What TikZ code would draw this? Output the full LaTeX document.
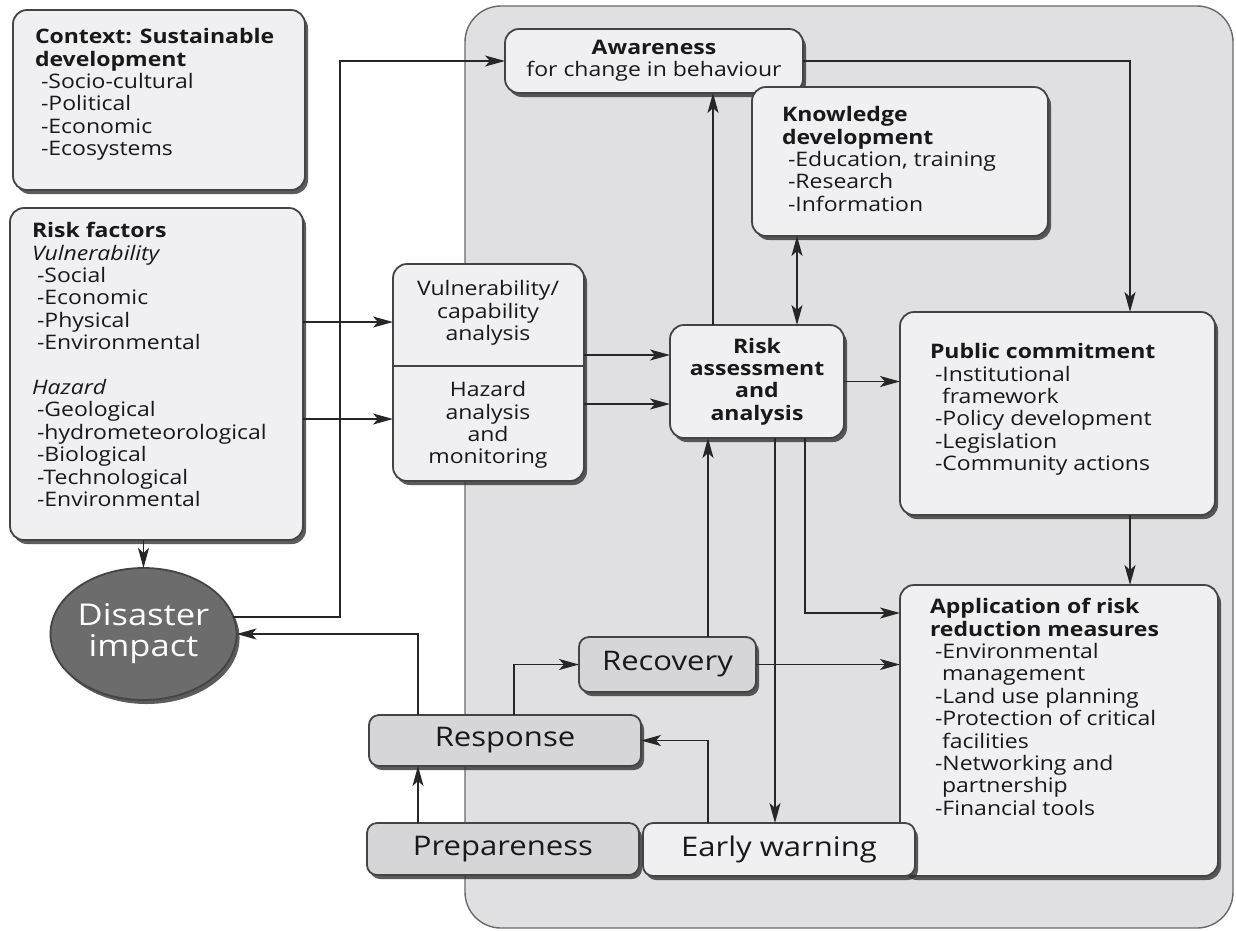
\documentclass[tikz,border=0pt]{standalone}
\usepackage{fontspec}
\setmainfont{Open Sans}[FakeStretch=1.15]
\usepackage{tikz}
\usetikzlibrary{arrows.meta}
\usetikzlibrary{shadows}
\usetikzlibrary{shapes.geometric}
\definecolor{panelgray}{RGB}{224,224,226}
\definecolor{boxfill}{RGB}{240,239,241}
\definecolor{stepfill}{RGB}{214,214,216}
\definecolor{impactfill}{RGB}{108,108,108}
\definecolor{edgegray}{RGB}{68,68,68}
\newcommand{\boxfont}{\fontsize{20}{22.4}\selectfont}
\newcommand{\stepfont}{\fontsize{27}{30}\selectfont}
\newcommand{\impactfont}{\fontsize{30}{31}\selectfont}
\newcommand{\boxtext}[3]{\parbox[t][#2][t]{#1}{\begin{tabular}[t]{@{}l@{}}#3\end{tabular}}}
\tikzstyle{box}=[draw=edgegray, line width=1.8pt, fill=boxfill, rounded corners=14pt,
                 inner sep=0, outer sep=0, text=black!90, font=\boxfont,
                 % dark shadow down and to the right
                 drop shadow={shadow xshift=3pt, shadow yshift=-4pt, fill=black!80, opacity=0.8}]
\tikzstyle{stepbox}=[box, fill=stepfill, rounded corners=10pt, font=\stepfont]
\tikzstyle{arr}=[line width=1.9pt, draw=black!85, -{Stealth[length=20pt, width=11pt, inset=5pt]}]
\tikzstyle{dblarr}=[line width=1.9pt, draw=black!85, {Stealth[length=20pt, width=11pt, inset=5pt]}-{Stealth[length=20pt, width=11pt, inset=5pt]}]

\begin{document}
\begin{tikzpicture}[x=1pt, y=-1pt]
    \useasboundingbox (0,0) rectangle (1236,930);
    \draw[draw=edgegray!80, line width=1.4pt, fill=panelgray, rounded corners=36pt] (465,6) rectangle (1233,928);

    \node[box, anchor=north west, inner xsep=22pt, inner ysep=18pt] (context) at (13,10)
        {\boxtext{248pt}{144pt}{\textbf{Context: Sustainable}\\ \textbf{development}\\
         \hspace*{6pt}-Socio-cultural\\ \hspace*{6pt}-Political\\ \hspace*{6pt}-Economic\\ \hspace*{6pt}-Ecosystems}};
    \node[box, anchor=north west, inner xsep=22pt, inner ysep=14pt] (risk) at (10,208)
        {\boxtext{249pt}{304pt}{\textbf{Risk factors}\\ \textit{Vulnerability}\\
         \hspace*{5pt}-Social\\ \hspace*{5pt}-Economic\\ \hspace*{5pt}-Physical\\ \hspace*{5pt}-Environmental\\ \\
         \textit{Hazard}\\ \hspace*{5pt}-Geological\\ \hspace*{5pt}-hydrometeorological\\ \hspace*{5pt}-Biological\\
         \hspace*{5pt}-Technological\\ \hspace*{5pt}-Environmental}};
    \node[box, ellipse, fill=impactfill, minimum width=173pt, minimum height=132pt, text=white,
          font=\impactfont, align=center] (disaster) at (143.5,634) {Disaster\\impact};

    \node[box, minimum width=298pt, minimum height=64pt, align=center] (awareness) at (654,61)
        {\textbf{Awareness}\\for change in behaviour};
    \node[box, anchor=north west, inner xsep=30pt, inner ysep=19pt] (knowledge) at (752,87)
        {\boxtext{236pt}{111pt}{\textbf{Knowledge}\\ \textbf{development}\\
         \hspace*{6pt}-Education, training\\ \hspace*{6pt}-Research\\ \hspace*{6pt}-Information}};

    \node[box, minimum width=191pt, minimum height=217pt] (vuln) at (488.5,372.5) {};
    \draw[line width=1.8pt, draw=edgegray] ([yshift=6.5pt]vuln.west) -- ([yshift=6.5pt]vuln.east);
    \node[align=center, font=\boxfont, text=black!90] (vulntop) at (488,313) {Vulnerability/\\capability\\analysis};
    \node[align=center, font=\boxfont, text=black!90] (vulnbot) at (488,425) {Hazard\\analysis\\and\\monitoring};

    \node[box, minimum width=174pt, minimum height=113pt, align=center, font=\boxfont\bfseries] (riskass) at (757,381.5)
        {Risk\\assessment\\and\\analysis};

    \node[box, anchor=north west, inner xsep=30pt, inner ysep=31pt] (public) at (900,312)
        {\boxtext{255pt}{141pt}{\textbf{Public commitment}\\ \hspace*{5pt}-Institutional\\ \hspace*{12pt}framework\\
         \hspace*{5pt}-Policy development\\ \hspace*{5pt}-Legislation\\ \hspace*{5pt}-Community actions}};
    \node[box, anchor=north west, inner xsep=30pt, inner ysep=13pt] (application) at (900,585)
        {\boxtext{258pt}{265pt}{\textbf{Application of risk}\\ \textbf{reduction measures}\\
         \hspace*{5pt}-Environmental\\ \hspace*{12pt}management\\ \hspace*{5pt}-Land use planning\\
         \hspace*{5pt}-Protection of critical\\ \hspace*{12pt}facilities\\ \hspace*{5pt}-Networking and\\
         \hspace*{12pt}partnership\\ \hspace*{5pt}-Financial tools}};

    \node[stepbox, minimum width=177pt, minimum height=55pt] (recovery) at (667.5,664.5) {Recovery};
    \node[stepbox, minimum width=272pt, minimum height=51pt] (response) at (505,740.5) {Response};
    \node[stepbox, minimum width=272pt, minimum height=52pt] (prepare) at (503,849) {Prepareness};
    \node[stepbox, fill=boxfill, minimum width=272pt, minimum height=53pt] (early) at (779,849.5) {Early warning};

    % columns and rows of the connectors
    \coordinate (colA) at (340,0);
    \coordinate (colB) at (418,0);
    \coordinate (colC) at (514,0);
    \coordinate (colD) at (708,0);
    \coordinate (colE) at (713,0);
    \coordinate (colF) at (775,0);
    \coordinate (colG) at (797,0);
    \coordinate (colH) at (805,0);
    \coordinate (colI) at (1130,0);
    \coordinate (rowA) at (0,322);
    \coordinate (rowB) at (0,419);
    \coordinate (rowC) at (0,355);
    \coordinate (rowD) at (0,404);
    \coordinate (rowE) at (0,613);

    \draw[arr] (risk.south -| disaster.north) -- (disaster.north);
    \draw[arr] (disaster.11) -| (colA |- awareness.west) -- (awareness.west);
    \draw[arr] (response.north -| colB) |- (disaster.east);
    \draw[arr] (prepare.north -| colB) -- (response.south -| colB);
    \draw[arr] (response.north -| colC) |- (recovery.west);
    \draw[arr] (early.north -| colD) |- (response.east);
    \draw[arr] (recovery.north -| colD) -- (riskass.south -| colD);
    \draw[arr] (riskass.south -| colF) -- (early.north -| colF);
    \draw[arr] (riskass.south -| colH) |- (application.west |- rowE);
    \draw[arr] (recovery.east) -- (recovery.east -| application.west);
    \draw[arr] (risk.east |- rowA) -- (vuln.west |- rowA);
    \draw[arr] (risk.east |- rowB) -- (vuln.west |- rowB);
    \draw[arr] (vuln.east |- rowC) -- (riskass.west |- rowC);
    \draw[arr] (vuln.east |- rowD) -- (riskass.west |- rowD);
    \draw[arr] (riskass.north -| colE) -- (awareness.south -| colE);
    \draw[dblarr] (knowledge.south -| colG) -- (riskass.north -| colG);
    \draw[arr] (riskass.east) -- (riskass.east -| public.west);
    \draw[arr] (awareness.east) -| (public.north -| colI);
    \draw[arr] (public.south -| colI) -- (application.north -| colI);
\end{tikzpicture}
\end{document}
